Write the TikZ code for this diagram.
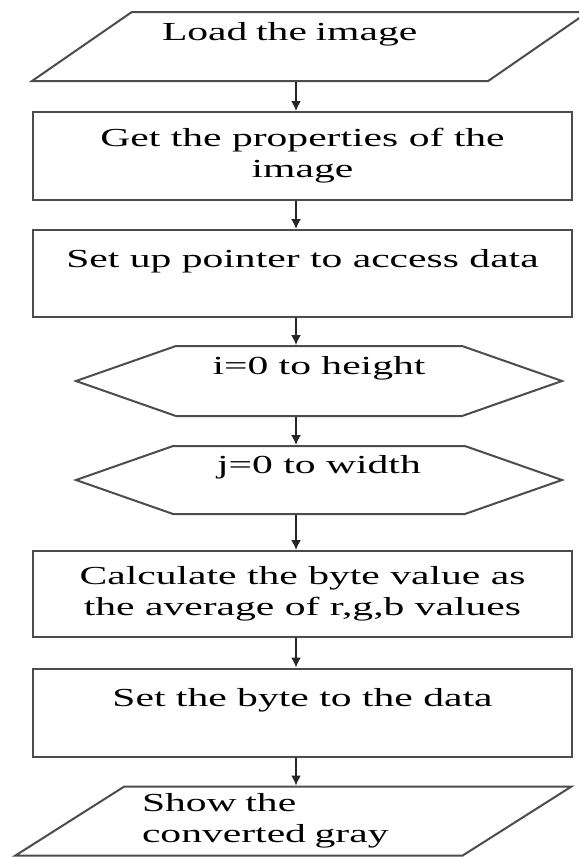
\documentclass[tikz,border=0pt]{standalone}
\usepackage{fontspec}
\setmainfont{Liberation Serif}[FakeStretch=1.6]
\usetikzlibrary{shapes.geometric,shapes.symbols,arrows.meta}

\tikzset{
  chartline/.style={draw=black!70, line width=1pt},
  procbox/.style={chartline, rectangle, minimum width=269.5pt, minimum height=44pt, align=center},
  iobox/.style={chartline, trapezium, trapezium left angle=32, trapezium right angle=148,
    trapezium stretches body, minimum width=278pt, minimum height=34.5pt},
  loopbox/.style={chartline, signal, signal to=west and east, signal from=nowhere,
    signal pointer angle=38.6, minimum width=243pt, minimum height=35pt, align=center},
  flow/.style={->, draw=black!85, line width=0.8pt}
}

\begin{document}
\begin{tikzpicture}[x=0.5pt, y=-0.5pt, >={Latex[length=5pt,width=5pt]},
    font=\fontsize{13pt}{15.5pt}\selectfont]
  \useasboundingbox (0,0) rectangle (579,857);
  \clip (0,0) rectangle (579,857);
  \coordinate (spine) at (296,0);

  % steps of the conversion
  \node[iobox, text width=148pt, align=left] (load) at (310,46.5) {Load the image\\ \mbox{}};
  \node[procbox] (get) at (302.5,156) {Get the properties of the\\ image};
  \node[procbox, minimum height=43.5pt] (setup) at (302.5,273.5) {Set up pointer to access data\\ \mbox{}};
  \node[loopbox] (hexi) at (319,381) {i=0 to height\\ \mbox{}};
  \node[loopbox, minimum height=34pt] (hexj) at (319,480) {j=0 to width\\ \mbox{}};
  \node[procbox, minimum height=43pt] (calc) at (302.5,594) {Calculate the byte value as\\ the average of r,g,b values};
  \node[procbox] (setbyte) at (302.5,712.5) {Set the byte to the data\\ \mbox{}};
  \node[iobox, text width=151.5pt, align=left] (show) at (293.5,821) {Show the\\ converted gray};

  % arrows down the chart
  \draw[flow] (load.south -| spine) -- (get.north -| spine);
  \draw[flow] (get.south -| spine) -- (setup.north -| spine);
  \draw[flow] (setup.south -| spine) -- (hexi.north -| spine);
  \draw[flow] (hexi.south -| spine) -- (hexj.north -| spine);
  \draw[flow] (hexj.south -| spine) -- (calc.north -| spine);
  \draw[flow] (calc.south -| spine) -- (setbyte.north -| spine);
  \draw[flow] (setbyte.south -| spine) -- (show.north -| spine);
\end{tikzpicture}
\end{document}
